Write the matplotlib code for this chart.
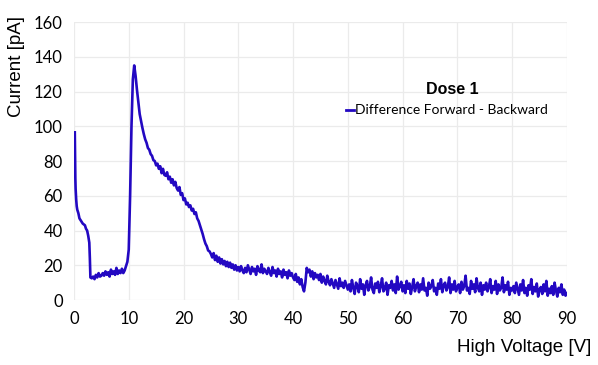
import numpy as np
import matplotlib
matplotlib.use("Agg")
import matplotlib.pyplot as plt

# Initial (sharp) part of the sweep: explicit voltage/current pairs
v_start = [0.15, 0.2, 0.25, 0.3, 0.4, 0.5, 0.6, 0.8, 1.0, 1.2, 1.4, 1.6, 1.8,
           2.0, 2.2, 2.4, 2.6, 2.8, 2.9, 3.0]
i_start = [96.5, 80, 70, 64, 58, 54, 52, 50, 47, 46, 45, 44, 43.5,
           43, 41, 40, 37, 33, 24, 13]

# Regular part of the sweep: 3.25 V .. 90 V, every 0.25 V
grid_first, grid_step = 3.25, 0.25
i_grid = [
    12.5, 13.5, 12.0, 14.5, 13.0, 15.5, 13.5, 14.0,
    15.5, 14.0, 16.5, 14.5, 16.0, 13.5, 17.5, 15.0, 16.5, 14.5, 18.5, 15.0, 17.0, 15.5, 18.0, 15.5, 17.0, 19.5, 22.0, 29.0,
    60, 100, 127, 135, 129, 121, 114, 107, 103, 99, 95.5, 92.5, 90.5, 87.5, 86.5, 84, 83, 80.5, 80, 77.5,
    78.5, 75.5, 77, 73, 75.5, 72, 71.5, 73.5, 69.5, 71, 67.5, 69.5, 66, 68, 64.5, 63, 65, 60.5, 61.5, 57.5,
    58.5, 55, 56, 53.5, 54.5, 51.5, 52.5, 49.5, 50.5, 47, 45.5, 43, 40.5, 38, 35, 32.5, 31, 28.5, 28, 26.5,
    24.5, 27, 23, 25.5, 22, 24.5, 21, 23.5, 20.5, 22.5, 19.5, 22, 19, 21.5, 18.5, 20.5, 17.5, 20, 17, 19,
    16.5, 19.5, 17, 15.5, 18.5, 16, 20, 17.5, 15, 19, 16.5, 18, 14.5, 19.5, 17, 16, 20.5, 15.5, 18, 16.5,
    15, 18.5, 16, 14, 19, 15.5, 17, 13.5, 18, 15, 16.5, 13, 17.5, 14.5, 16, 12.5, 17, 14, 15.5, 13,
    11.5, 15, 10.5, 13, 9, 12, 7.5, 5, 10, 18.5, 16, 17.5, 13.5, 16.5, 12, 15.5, 13, 14.5, 11.5, 15,
    10, 13.5, 11, 9, 14, 10.5, 8.5, 12, 9.5, 7, 11.5, 9, 6.5, 12.5, 8, 10, 7, 11, 8.5, 6,
    9, 5, 11.5, 7, 3.5, 10, 8, 4.5, 12, 6.5, 9, 3, 8.5, 11, 5.5, 7.5, 13, 6, 4, 9.5,
    7, 10.5, 4.5, 8, 12.5, 5, 6.5, 10, 3, 8.5, 7, 11, 5.5, 9, 4, 13.5, 6, 8, 10.5, 5,
    8.5, 4, 11, 6.5, 9.5, 3.5, 7.5, 12, 5, 8, 10, 4.5, 9, 6, 12.5, 5.5, 7, 2.5, 10, 6.5,
    8, 11.5, 5, 7, 3, 9.5, 6.5, 12, 4.5, 8.5, 10, 5.5, 7.5, 13, 4, 9, 6, 11, 5, 7.5,
    9, 4, 10.5, 6, 8, 14, 5.5, 7, 3.5, 11, 6.5, 9, 4.5, 12.5, 7, 5, 10, 3, 8.5, 6,
    10, 5, 7.5, 12, 4, 8, 6, 11, 3.5, 9, 5.5, 7, 13, 4.5, 8.5, 6, 10.5, 3, 7, 5.5,
    8, 4, 10, 6.5, 3, 9, 5.5, 11.5, 4, 7, 2.5, 8.5, 6, 12, 3.5, 7.5, 5, 9.5, 2, 6,
    7.5, 3.5, 9, 5, 11, 2.5, 6.5, 4, 8, 3, 10, 5.5, 2, 7, 4.5, 9, 3, 6, 2.5, 4,
]
v_grid = grid_first + grid_step * np.arange(len(i_grid))

voltage = np.concatenate([v_start, v_grid])
current = np.concatenate([i_start, i_grid])

x_ticks = [0, 10, 20, 30, 40, 50, 60, 70, 80, 90]
y_ticks = [0, 20, 40, 60, 80, 100, 120, 140, 160]

fig = plt.figure(figsize=(5.98, 3.65), dpi=100)
ax = fig.add_axes([0.1237, 0.178, 0.948 - 0.1237, 0.9397 - 0.178])

line_color = "#2308C2"
ax.plot(voltage, current, color=line_color, lw=1.9, solid_joinstyle="round")

ax.set_xlim(0, 90)
ax.set_ylim(0, 160)
ax.set_xticks(x_ticks)
ax.set_yticks(y_ticks)
ax.grid(True, color="#EBEBEB", lw=0.9)
ax.set_axisbelow(True)
for s in ax.spines.values():
    s.set_visible(False)
ax.tick_params(length=0, labelsize=12, pad=8)
for lab in ax.get_xticklabels() + ax.get_yticklabels():
    lab.set_fontfamily("Lato")

ax.set_ylabel("Current [pA]", fontsize=13.5, family="Liberation Sans")
ax.yaxis.set_label_coords(-0.1, 1.02)
ax.yaxis.label.set_horizontalalignment("right")
ax.set_xlabel("High Voltage [V]", fontsize=13.5, family="Liberation Sans")
ax.xaxis.set_label_coords(1.05, -0.14)
ax.xaxis.label.set_horizontalalignment("right")

# Legend
fig.text(452 / 598, 1 - 90 / 365, "Dose 1", ha="center", va="center",
         fontsize=11.5, fontweight="bold", family="Liberation Sans")
fig.add_artist(plt.Line2D([346 / 598, 354 / 598], [1 - 110 / 365, 1 - 110 / 365],
                          color=line_color, lw=2))
fig.text(355 / 598, 1 - 110 / 365, "Difference Forward - Backward", ha="left",
         va="center", fontsize=10, family="Lato")

fig.savefig("out.png", dpi=100)
